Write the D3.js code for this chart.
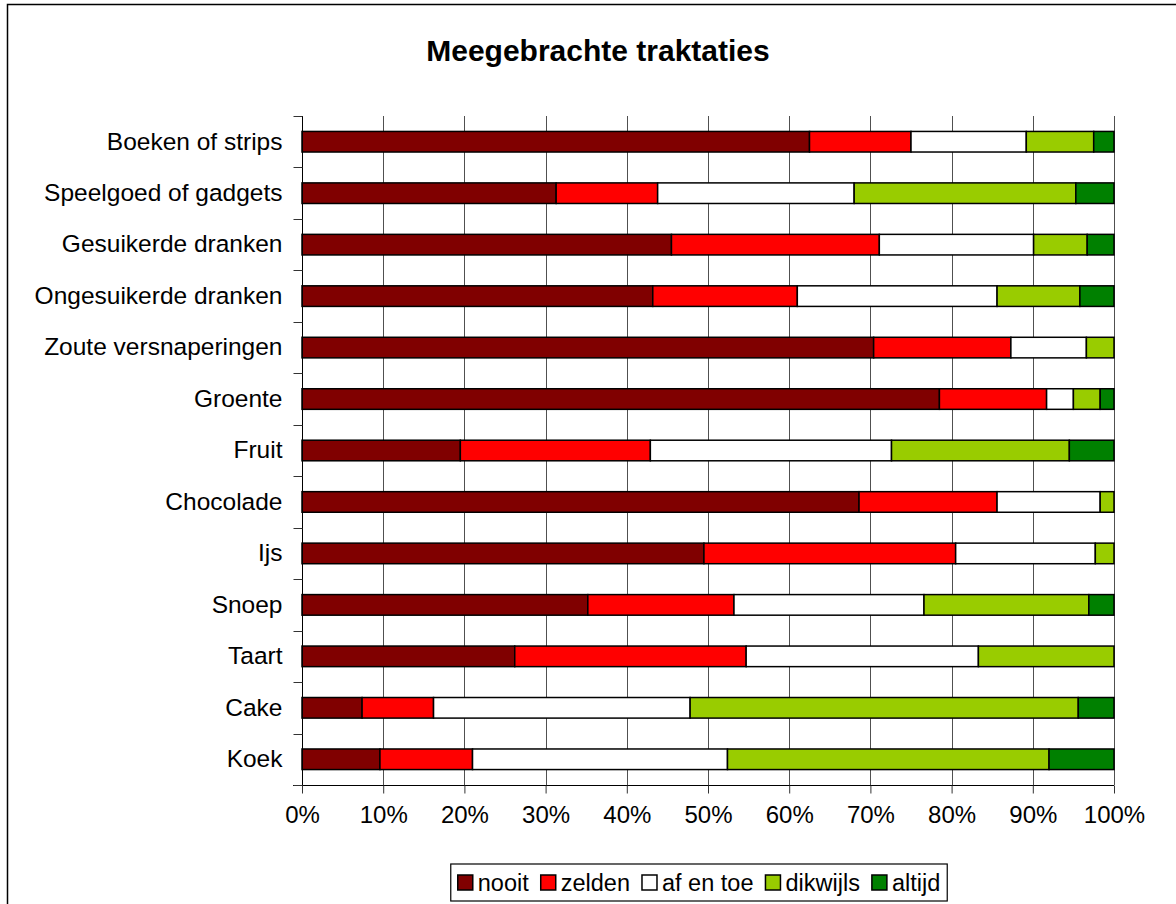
<!DOCTYPE html>
<html>
<head>
<meta charset="utf-8">
<script src="https://cdn.jsdelivr.net/npm/d3@7"></script>
<style>
  body { margin: 0; background: #fff; }
  svg { display: block; font-family: Arial, "Liberation Sans", sans-serif; }
</style>
</head>
<body>
<svg id="chart" width="1176" height="904"></svg>
<script>
// categorieen van boven naar beneden
const categorieen = ["Boeken of strips", "Speelgoed of gadgets", "Gesuikerde dranken", "Ongesuikerde dranken",
    "Zoute versnaperingen", "Groente", "Fruit", "Chocolade", "Ijs", "Snoep", "Taart", "Cake", "Koek"];

const reeksen = ["nooit", "zelden", "af en toe", "dikwijls", "altijd"];

// percentages per categorie (zelfde volgorde als categorieen)
const nooit    = [62.5, 31.3, 45.5, 43.2, 70.4, 78.5, 19.5, 68.6, 49.5, 35.2, 26.2, 7.4, 9.6];
const zelden   = [12.5, 12.5, 25.6, 17.8, 16.9, 13.2, 23.4, 17.0, 31.0, 18.0, 28.5, 8.8, 11.4];
const afEnToe  = [14.2, 24.2, 19.0, 24.6, 9.3, 3.3, 29.7, 12.7, 17.2, 23.4, 28.6, 31.6, 31.4];
const dikwijls = [8.3, 27.3, 6.6, 10.2, 3.4, 3.3, 21.9, 1.7, 2.3, 20.3, 16.7, 47.8, 39.6];
const altijd   = [2.5, 4.7, 3.3, 4.2, 0, 1.7, 5.5, 0, 0, 3.1, 0, 4.4, 8.0];

const xTicks = [0, 0.1, 0.2, 0.3, 0.4, 0.5, 0.6, 0.7, 0.8, 0.9, 1];

const kleuren = ["#800000", "#ff0000", "#ffffff", "#99cc00", "#008000"];

const svg = d3.select("#chart");
const plotLeft = 302, plotRight = 1114, plotTop = 116, plotBottom = 785;

// rijen voor d3.stack
let rows = categorieen.map(function (c, i) {
    return {
        categorie: c,
        "nooit": nooit[i],
        "zelden": zelden[i],
        "af en toe": afEnToe[i],
        "dikwijls": dikwijls[i],
        "altijd": altijd[i]
    };
});

let stacked = d3.stack()
    .keys(reeksen)
    .offset(d3.stackOffsetExpand)(rows);

let x = d3.scaleLinear().domain([0, 1]).range([plotLeft, plotRight]);
let y = d3.scaleBand().domain(categorieen).range([plotTop, plotBottom]).paddingInner(0.6).paddingOuter(0.3);
let color = d3.scaleOrdinal().domain(reeksen).range(kleuren);

// buitenkader
svg.append("rect")
    .attr("x", 7.5).attr("y", 4.5)
    .attr("width", 1300).attr("height", 1100)
    .attr("fill", "none")
    .attr("stroke", "#000")
    .attr("stroke-width", 1.5);

// titel
svg.append("text")
    .attr("x", 598).attr("y", 61)
    .attr("text-anchor", "middle")
    .style("font-size", "30px")
    .style("font-weight", "bold")
    .text("Meegebrachte traktaties");

// verticale rasterlijnen
svg.append("g")
    .selectAll("line")
    .data(xTicks.slice(1))
    .join("line")
    .attr("x1", d => Math.round(x(d)) + 0.5)
    .attr("x2", d => Math.round(x(d)) + 0.5)
    .attr("y1", plotTop)
    .attr("y2", plotBottom)
    .attr("stroke", "#505050")
    .attr("stroke-width", 1);

// gestapelde balken
svg.append("g")
    .selectAll("g")
    .data(stacked)
    .join("g")
    .attr("fill", d => color(d.key))
    .selectAll("rect")
    .data(d => d.filter(s => s[1] - s[0] > 0))
    .join("rect")
    .attr("x", d => x(d[0]))
    .attr("y", d => y(d.data.categorie))
    .attr("width", d => x(d[1]) - x(d[0]))
    .attr("height", y.bandwidth())
    .attr("stroke", "#000")
    .attr("stroke-width", 1.5);

// x-as
let xAxis = svg.append("g")
    .attr("transform", "translate(0," + (plotBottom + 0.5) + ")")
    .call(d3.axisBottom(x).tickValues(xTicks).tickFormat(d3.format(".0%")).tickSize(8).tickPadding(12));
xAxis.select(".domain").attr("stroke", "#000").attr("d", "M" + (plotLeft - 9) + ",0H" + plotRight);
xAxis.selectAll(".tick line").attr("stroke", "#333");
xAxis.selectAll("text")
    .attr("fill", "#000")
    .style("font-size", "24px")
    .style("font-family", "Arial, 'Liberation Sans', sans-serif");

// y-as: labels in het midden, streepjes op de grenzen
let yAxis = svg.append("g")
    .attr("transform", "translate(" + (plotLeft + 0.5) + ",0)")
    .call(d3.axisLeft(y).tickSize(0).tickPadding(20));
yAxis.select(".domain").attr("stroke", "#000").attr("d", "M0," + plotTop + "V" + plotBottom);
yAxis.selectAll("text")
    .attr("fill", "#000")
    .style("font-size", "24.5px")
    .style("font-family", "Arial, 'Liberation Sans', sans-serif");

yAxis.selectAll(".grens")
    .data(d3.range(categorieen.length + 1))
    .join("line")
    .attr("class", "grens")
    .attr("x1", -9).attr("x2", 0)
    .attr("y1", i => Math.round(plotTop + i * y.step()) + 0.5)
    .attr("y2", i => Math.round(plotTop + i * y.step()) + 0.5)
    .attr("stroke", "#333");

// legenda
let legend = svg.append("g");
let box = legend.append("rect")
    .attr("fill", "#fff")
    .attr("stroke", "#000")
    .attr("stroke-width", 1.2);

let pos = 0;
reeksen.forEach(function (r) {
    let item = legend.append("g").attr("transform", "translate(" + pos + ",0)");
    item.append("rect")
        .attr("x", 0).attr("y", -8)
        .attr("width", 15).attr("height", 15)
        .attr("fill", color(r))
        .attr("stroke", "#000")
        .attr("stroke-width", 1.5);
    let t = item.append("text")
        .attr("x", 20).attr("y", 8)
        .style("font-size", "23.5px")
        .text(r);
    pos += 20 + t.node().getComputedTextLength() + 12;
});
pos -= 12;

let lx = 699 - pos / 2, ly = 883;
legend.attr("transform", "translate(" + lx + "," + ly + ")");
box.attr("x", -7).attr("y", -19)
    .attr("width", pos + 14).attr("height", 37);
</script>
</body>
</html>
